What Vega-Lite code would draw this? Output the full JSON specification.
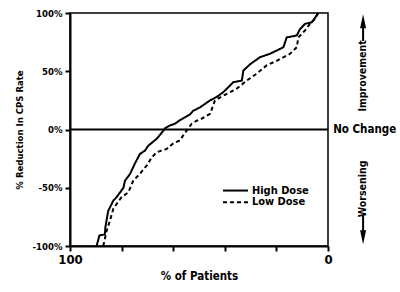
{
  "$schema": "https://vega.github.io/schema/vega-lite/v6.json",
  "width": 258,
  "height": 233,
  "autosize": "none",
  "padding": {"left": 70, "top": 13, "right": 72, "bottom": 46},
  "background": "white",
  "config": {
    "font": "Liberation Sans Narrow, DejaVu Sans Condensed, sans-serif",
    "view": {"stroke": "black", "strokeWidth": 1.5},
    "axis": {
      "grid": false,
      "domainColor": "black",
      "domainWidth": 2,
      "tickColor": "black",
      "tickWidth": 2,
      "tickSize": 5,
      "labelColor": "black",
      "labelFontWeight": "bold",
      "labelFlush": false,
      "titleColor": "black",
      "titleFontWeight": "bold"
    }
  },
  "datasets": {
    "curves": [
      {"dose": "High Dose", "pct": 89.7, "reduction": -100},
      {"dose": "High Dose", "pct": 88.6, "reduction": -91},
      {"dose": "High Dose", "pct": 86.5, "reduction": -90},
      {"dose": "High Dose", "pct": 86.3, "reduction": -84},
      {"dose": "High Dose", "pct": 85.2, "reduction": -70},
      {"dose": "High Dose", "pct": 83.2, "reduction": -61},
      {"dose": "High Dose", "pct": 81.9, "reduction": -58},
      {"dose": "High Dose", "pct": 79.3, "reduction": -50},
      {"dose": "High Dose", "pct": 78.7, "reduction": -44},
      {"dose": "High Dose", "pct": 76.7, "reduction": -38},
      {"dose": "High Dose", "pct": 74.8, "reduction": -29},
      {"dose": "High Dose", "pct": 72.9, "reduction": -21},
      {"dose": "High Dose", "pct": 70.9, "reduction": -18},
      {"dose": "High Dose", "pct": 69.7, "reduction": -14},
      {"dose": "High Dose", "pct": 66.4, "reduction": -8},
      {"dose": "High Dose", "pct": 63.8, "reduction": -1},
      {"dose": "High Dose", "pct": 63.2, "reduction": 1},
      {"dose": "High Dose", "pct": 61.2, "reduction": 3.5},
      {"dose": "High Dose", "pct": 59.3, "reduction": 5},
      {"dose": "High Dose", "pct": 57.4, "reduction": 8},
      {"dose": "High Dose", "pct": 55.4, "reduction": 10.5},
      {"dose": "High Dose", "pct": 53.5, "reduction": 13},
      {"dose": "High Dose", "pct": 52.3, "reduction": 16},
      {"dose": "High Dose", "pct": 49.6, "reduction": 19},
      {"dose": "High Dose", "pct": 45.7, "reduction": 25},
      {"dose": "High Dose", "pct": 43.1, "reduction": 28},
      {"dose": "High Dose", "pct": 40.6, "reduction": 32},
      {"dose": "High Dose", "pct": 36.7, "reduction": 40.6},
      {"dose": "High Dose", "pct": 33.4, "reduction": 42},
      {"dose": "High Dose", "pct": 32.8, "reduction": 50.6},
      {"dose": "High Dose", "pct": 30.2, "reduction": 56},
      {"dose": "High Dose", "pct": 26.4, "reduction": 62},
      {"dose": "High Dose", "pct": 22.5, "reduction": 65},
      {"dose": "High Dose", "pct": 17.3, "reduction": 70.6},
      {"dose": "High Dose", "pct": 16.0, "reduction": 79},
      {"dose": "High Dose", "pct": 12.1, "reduction": 80.7},
      {"dose": "High Dose", "pct": 10.9, "reduction": 86},
      {"dose": "High Dose", "pct": 8.9, "reduction": 90.7},
      {"dose": "High Dose", "pct": 6.3, "reduction": 92},
      {"dose": "High Dose", "pct": 5.0, "reduction": 96},
      {"dose": "High Dose", "pct": 3.8, "reduction": 100},
      {"dose": "Low Dose", "pct": 87.1, "reduction": -100},
      {"dose": "Low Dose", "pct": 85.8, "reduction": -87},
      {"dose": "Low Dose", "pct": 84.5, "reduction": -78},
      {"dose": "Low Dose", "pct": 83.2, "reduction": -68},
      {"dose": "Low Dose", "pct": 81.3, "reduction": -62},
      {"dose": "Low Dose", "pct": 80.0, "reduction": -58},
      {"dose": "Low Dose", "pct": 77.4, "reduction": -54},
      {"dose": "Low Dose", "pct": 75.5, "reduction": -44},
      {"dose": "Low Dose", "pct": 72.9, "reduction": -38},
      {"dose": "Low Dose", "pct": 70.3, "reduction": -31},
      {"dose": "Low Dose", "pct": 68.3, "reduction": -24},
      {"dose": "Low Dose", "pct": 66.4, "reduction": -19.5},
      {"dose": "Low Dose", "pct": 62.5, "reduction": -16.6},
      {"dose": "Low Dose", "pct": 60.0, "reduction": -12},
      {"dose": "Low Dose", "pct": 57.4, "reduction": -9.4},
      {"dose": "Low Dose", "pct": 56.1, "reduction": -5},
      {"dose": "Low Dose", "pct": 54.8, "reduction": -1},
      {"dose": "Low Dose", "pct": 52.8, "reduction": 5},
      {"dose": "Low Dose", "pct": 50.9, "reduction": 7.5},
      {"dose": "Low Dose", "pct": 49.6, "reduction": 8.5},
      {"dose": "Low Dose", "pct": 45.7, "reduction": 13.5},
      {"dose": "Low Dose", "pct": 43.8, "reduction": 25},
      {"dose": "Low Dose", "pct": 40.6, "reduction": 29},
      {"dose": "Low Dose", "pct": 35.4, "reduction": 35},
      {"dose": "Low Dose", "pct": 31.5, "reduction": 42},
      {"dose": "Low Dose", "pct": 27.6, "reduction": 48},
      {"dose": "Low Dose", "pct": 23.8, "reduction": 55},
      {"dose": "Low Dose", "pct": 19.9, "reduction": 59},
      {"dose": "Low Dose", "pct": 14.7, "reduction": 65},
      {"dose": "Low Dose", "pct": 12.1, "reduction": 70.6},
      {"dose": "Low Dose", "pct": 11.5, "reduction": 79},
      {"dose": "Low Dose", "pct": 8.9, "reduction": 85},
      {"dose": "Low Dose", "pct": 7.0, "reduction": 90.7},
      {"dose": "Low Dose", "pct": 5.0, "reduction": 95},
      {"dose": "Low Dose", "pct": 3.8, "reduction": 100}
    ],
    "single": [{}]
  },
  "data": {"name": "single"},
  "layer": [
    {
      "data": {"name": "curves"},
      "mark": {"type": "line", "color": "black", "strokeWidth": 2},
      "encoding": {
        "x": {
          "field": "pct",
          "type": "quantitative",
          "scale": {"domain": [0, 100], "reverse": true, "nice": false},
          "axis": {
            "title": "% of Patients",
            "values": [0, 10, 20, 30, 40, 50, 60, 70, 80, 90, 100],
            "labelExpr": "datum.value % 50 == 0 ? datum.label : ''",
            "labelFontSize": 13,
            "labelPadding": 2,
            "titleFontSize": 11.5,
            "titlePadding": 4
          }
        },
        "y": {
          "field": "reduction",
          "type": "quantitative",
          "scale": {"domain": [-100, 100], "nice": false},
          "axis": {
            "title": "% Reduction In CPS Rate",
            "values": [-100, -75, -50, -25, 0, 25, 50, 75, 100],
            "labelExpr": "datum.value + '%'",
            "labelFontSize": 9.5,
            "labelPadding": 3,
            "titleFontSize": 9.5,
            "titlePadding": 8
          }
        },
        "order": {"field": "reduction", "type": "quantitative"},
        "strokeDash": {
          "field": "dose",
          "type": "nominal",
          "scale": {"domain": ["High Dose", "Low Dose"], "range": [[1, 0], [4, 3]]},
          "legend": null
        }
      }
    },
    {
      "mark": {"type": "rule", "color": "black", "strokeWidth": 2},
      "encoding": {
        "x": {"datum": 100, "type": "quantitative"},
        "x2": {"datum": 0},
        "y": {"datum": 0, "type": "quantitative"}
      }
    },
    {
      "mark": {"type": "rule", "color": "black", "strokeWidth": 2},
      "encoding": {
        "x": {"datum": 40.7, "type": "quantitative"},
        "x2": {"datum": 31.0},
        "y": {"datum": -52.4, "type": "quantitative"}
      }
    },
    {
      "mark": {"type": "rule", "color": "black", "strokeWidth": 2, "strokeDash": [4, 3]},
      "encoding": {
        "x": {"datum": 40.7, "type": "quantitative"},
        "x2": {"datum": 31.0},
        "y": {"datum": -62.4, "type": "quantitative"}
      }
    },
    {
      "mark": {"type": "text", "align": "left", "baseline": "middle", "fontSize": 11, "fontWeight": "bold", "color": "black"},
      "encoding": {
        "x": {"datum": 29.5, "type": "quantitative"},
        "y": {"datum": -52.4, "type": "quantitative"},
        "text": {"value": "High Dose"}
      }
    },
    {
      "mark": {"type": "text", "align": "left", "baseline": "middle", "fontSize": 11, "fontWeight": "bold", "color": "black"},
      "encoding": {
        "x": {"datum": 29.5, "type": "quantitative"},
        "y": {"datum": -62.4, "type": "quantitative"},
        "text": {"value": "Low Dose"}
      }
    },
    {
      "mark": {"type": "text", "align": "left", "baseline": "middle", "fontSize": 11.5, "fontWeight": "bold", "color": "black"},
      "encoding": {
        "x": {"datum": -2.0, "type": "quantitative"},
        "y": {"datum": 0, "type": "quantitative"},
        "text": {"value": "No Change"}
      }
    },
    {
      "mark": {"type": "text", "align": "center", "baseline": "middle", "angle": 270, "fontSize": 10.5, "fontWeight": "bold", "color": "black"},
      "encoding": {
        "x": {"datum": -13.6, "type": "quantitative"},
        "y": {"datum": 46, "type": "quantitative"},
        "text": {"value": "Improvement"}
      }
    },
    {
      "mark": {"type": "text", "align": "center", "baseline": "middle", "angle": 270, "fontSize": 10.5, "fontWeight": "bold", "color": "black"},
      "encoding": {
        "x": {"datum": -13.6, "type": "quantitative"},
        "y": {"datum": -51, "type": "quantitative"},
        "text": {"value": "Worsening"}
      }
    },
    {
      "mark": {"type": "rule", "color": "black", "strokeWidth": 2},
      "encoding": {
        "x": {"datum": -13.6, "type": "quantitative"},
        "y": {"datum": 76, "type": "quantitative"},
        "y2": {"datum": 90}
      }
    },
    {
      "mark": {"type": "rule", "color": "black", "strokeWidth": 2},
      "encoding": {
        "x": {"datum": -13.6, "type": "quantitative"},
        "y": {"datum": -74, "type": "quantitative"},
        "y2": {"datum": -88}
      }
    },
    {
      "mark": {"type": "point", "shape": "M-0.43,1L0,-1L0.43,1Z", "filled": true, "color": "black", "size": 196, "opacity": 1},
      "encoding": {
        "x": {"datum": -13.6, "type": "quantitative"},
        "y": {"datum": 93, "type": "quantitative"}
      }
    },
    {
      "mark": {"type": "point", "shape": "M-0.43,-1L0,1L0.43,-1Z", "filled": true, "color": "black", "size": 196, "opacity": 1},
      "encoding": {
        "x": {"datum": -13.6, "type": "quantitative"},
        "y": {"datum": -92.5, "type": "quantitative"}
      }
    }
  ]
}
